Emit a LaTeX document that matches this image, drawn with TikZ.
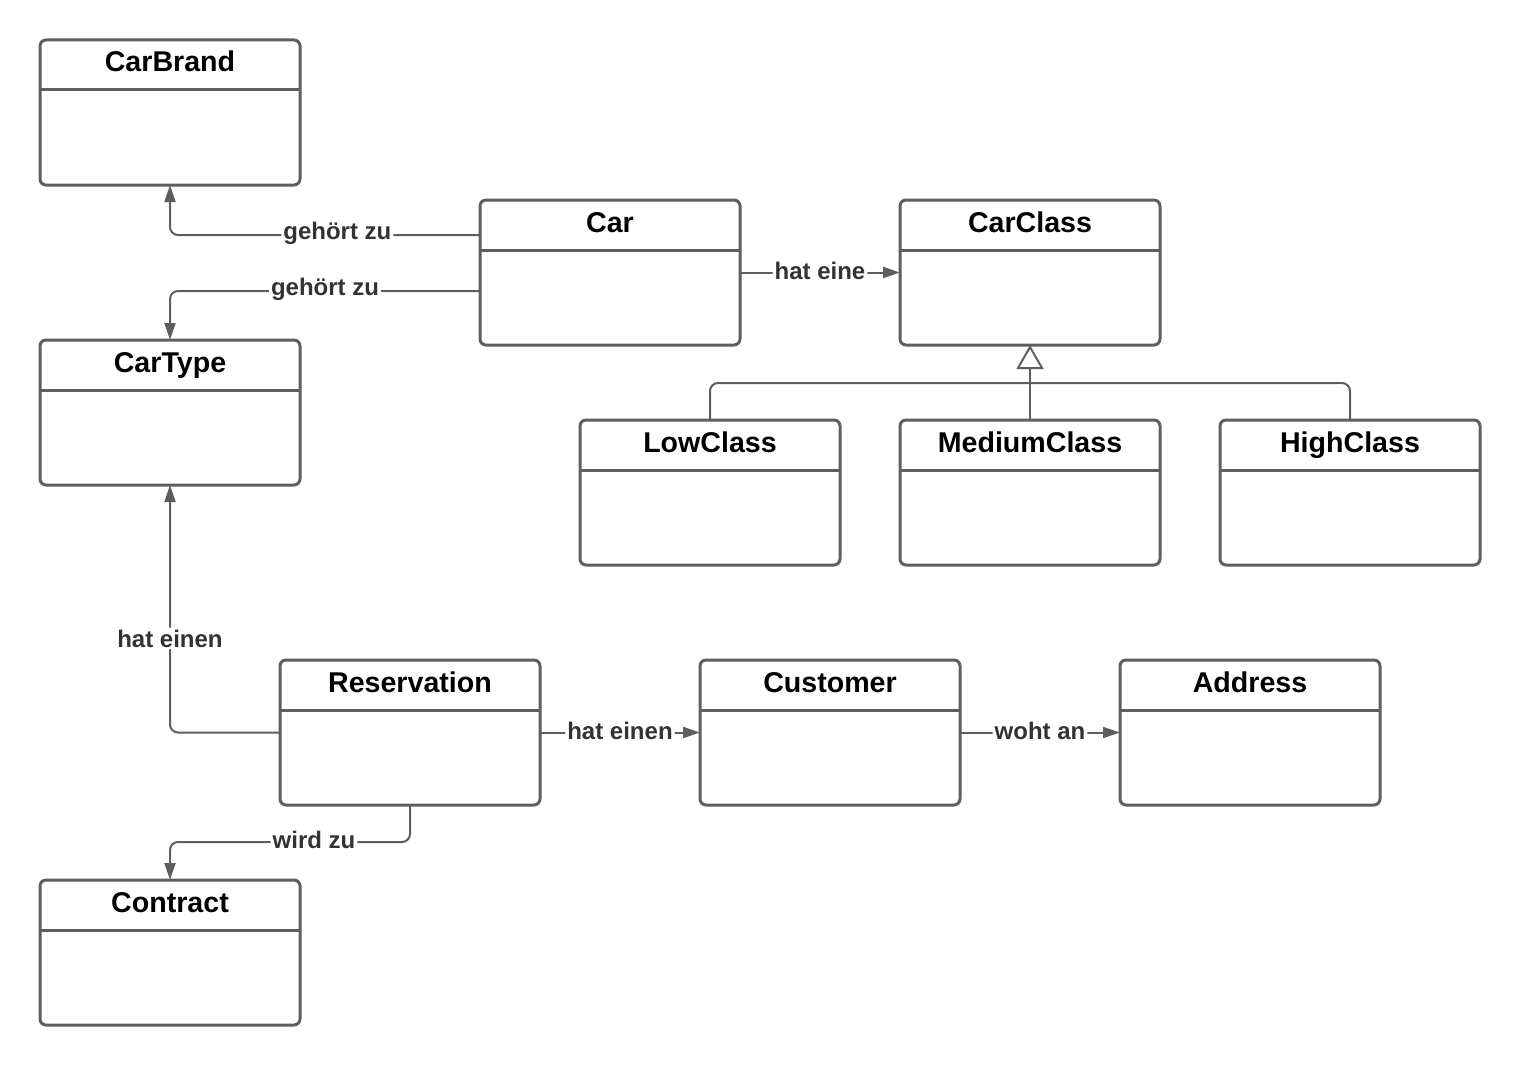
\documentclass[tikz,border=0pt]{standalone}
\usepackage{fontspec}
\setmainfont{Liberation Sans}
\usetikzlibrary{arrows.meta, positioning, calc}
\definecolor{linegrey}{HTML}{5E5E5E}
\definecolor{labelgrey}{HTML}{333333}
\newcommand{\titlefont}{\fontsize{14.3}{16}\selectfont\bfseries}
\newcommand{\labelfont}{\fontsize{12}{14}\selectfont\bfseries}

\begin{document}
\begin{tikzpicture}[x=0.5pt, y=-0.5pt,
	classbox/.style={draw=linegrey, line width=1.5pt, rounded corners=3pt, minimum width=130pt, minimum height=72.5pt, inner sep=0pt, outer sep=0pt},
	assoc/.style={draw=linegrey, line width=1pt, rounded corners=4pt, -{Triangle[length=8.5pt,width=5.5pt]}},
	lbl/.style={fill=white, text=labelgrey, font=\labelfont, inner sep=1pt, yshift=1pt}]
			\useasboundingbox (0,0) rectangle (1520,1065);
			\node[classbox] (carbrand) at (170,112.5) {};
			\node[classbox, below=77.5pt of carbrand] (cartype) {};
			\node[classbox] (car) at (610,272.5) {};
			\node[classbox, right=80pt of car] (carclass) {};
			\node[classbox, below=37.5pt of carclass] (mediumclass) {};
				\node[classbox, left=30pt of mediumclass] (lowclass) {};
				\node[classbox, right=30pt of mediumclass] (highclass) {};
			\node[classbox] (reservation) at (410,732.5) {};
			\node[classbox, right=80pt of reservation] (customer) {};
			\node[classbox, right=80pt of customer] (address) {};
			\node[classbox] (contract) at (170,952.5) {};
			\foreach \n/\t in {carbrand/CarBrand, cartype/CarType, car/Car, carclass/CarClass, lowclass/LowClass, mediumclass/MediumClass, highclass/HighClass, reservation/Reservation, customer/Customer, address/Address, contract/Contract}
			{
				\draw[linegrey, line width=1.5pt] ([yshift=-25pt]\n.north west) -- ([yshift=-25pt]\n.north east);
				\node[font=\titlefont, anchor=base] at ([yshift=-16pt]\n.north) {\t};
			}
			\draw[assoc] ([yshift=18.75pt]car.west) -| node[lbl, pos=0.23] {gehört zu} (carbrand.south);
			\draw[assoc] ([yshift=-9.25pt]car.west) -| node[lbl, pos=0.25] {gehört zu} (cartype.north);
			\draw[assoc] (car.east) -- node[lbl] {hat eine} (carclass.west);
			\draw[assoc] (reservation.west) -| node[lbl, pos=0.686] {hat einen} (cartype.south);
			\draw[assoc] (reservation.east) -- node[lbl] {hat einen} (customer.west);
			\draw[assoc] (customer.east) -- node[lbl] {woht an} (address.west);
			\coordinate (contractbend) at (170,842);
			\draw[assoc] (reservation.south) |- node[lbl, pos=0.7] {wird zu} (contractbend) -- (contract.north);
			% generalisation
			\coordinate (genhub) at (1030,383);
			\draw[linegrey, line width=1pt, -{Triangle[open, length=12pt, width=13.5pt]}] (mediumclass.north) -- (carclass.south);
			\draw[linegrey, line width=1pt, rounded corners=4pt] (lowclass.north) |- (genhub) -| (highclass.north);
		\end{tikzpicture}
\end{document}
